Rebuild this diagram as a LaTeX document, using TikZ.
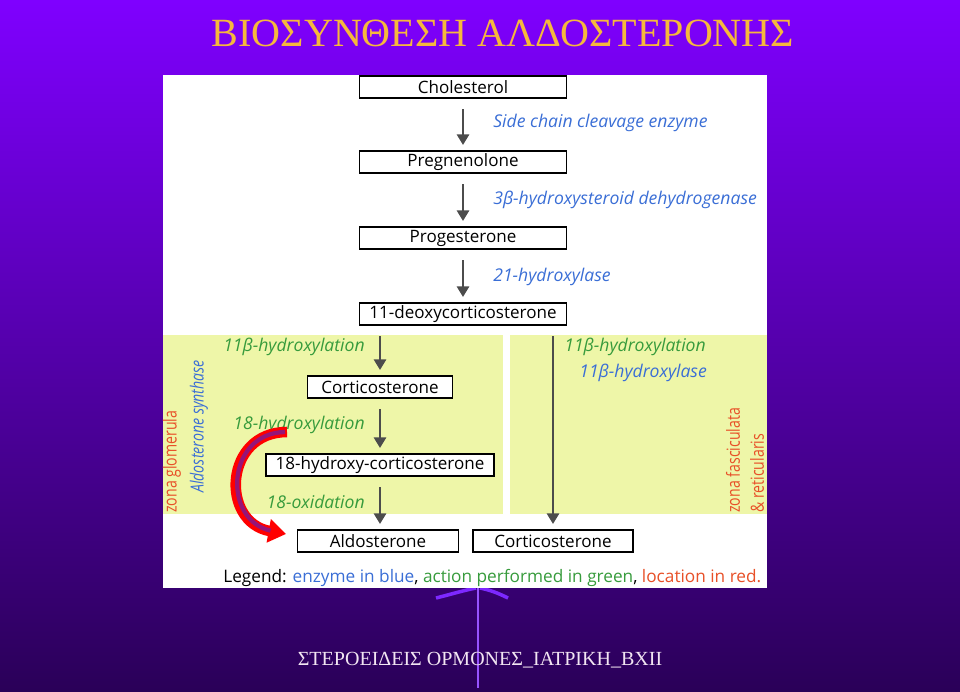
\documentclass[tikz,border=0pt]{standalone}
\usepackage{fontspec}
\setmainfont{Liberation Serif}
\newfontfamily\diagfont{Open Sans}
\newfontfamily\narrowfont[FakeStretch=0.78]{Open Sans}
\usetikzlibrary{arrows.meta,positioning}
\tikzset{>={Triangle[width=7pt,length=6pt]}}
\definecolor{slidetop}{RGB}{127,0,255}
\definecolor{slidemid}{RGB}{92,0,205}
\definecolor{slidebot}{RGB}{42,0,88}
\definecolor{titlegold}{RGB}{246,184,60}
\definecolor{enzblue}{RGB}{58,110,214}
\definecolor{actgreen}{RGB}{55,155,60}
\definecolor{locred}{RGB}{232,80,40}
\definecolor{zonefill}{RGB}{238,246,168}
\definecolor{swirl}{RGB}{150,20,120}
\definecolor{stem}{RGB}{125,40,255}

\begin{document}
\begin{tikzpicture}[x=0.02cm,y=-0.02cm]
    \tikzstyle{mbox} = [draw, line width=0.9pt, fill=white, inner sep=0pt, minimum height=0.44cm, font=\diagfont\fontsize{9.7}{11}\selectfont]
    \tikzstyle{enz} = [text=enzblue, inner sep=0pt, font=\diagfont\itshape\fontsize{10}{12}\selectfont]
    \tikzstyle{act} = [text=actgreen, inner sep=0pt, font=\diagfont\itshape\fontsize{10}{12}\selectfont]
    \tikzstyle{loc} = [text=locred, inner sep=0pt, rotate=90, anchor=west, font=\narrowfont\fontsize{10.3}{12}\selectfont]
    \tikzstyle{flow} = [->, line width=1.1pt, draw=black!70, shorten <=6pt, shorten >=3pt]

    % slide background
    \shade[top color=slidetop, middle color=slidemid, bottom color=slidebot] (0,0) rectangle (960,691);
    \useasboundingbox (0,0) rectangle (960,691);
    \draw[stem!80!white, line width=1pt] (478,588) -- (478,688);
    \draw[stem, line width=2pt] (436,598) .. controls (452,594) and (465,590) .. (476,588);
    \draw[stem, line width=2pt] (480,588) .. controls (490,590) and (498,593) .. (508,598);

    \node[text=titlegold, font=\fontsize{22.8}{26}\selectfont] (title) at (503,33) {ΒΙΟΣΥΝΘΕΣΗ ΑΛΔΟΣΤΕΡΟΝΗΣ};
    \node[text=white!90!violet, font=\fontsize{11.4}{13}\selectfont] (footer) at (480,660) {ΣΤΕΡΟΕΙΔΕΙΣ ΟΡΜΟΝΕΣ\_ΙΑΤΡΙΚΗ\_ΒΧΙΙ};

    % figure panel
    \fill[white] (163,75) rectangle (767,588);
    \fill[zonefill] (163,335) rectangle (503,514);
    \fill[zonefill] (510,335) rectangle (767,514);

    % main chain
    \node[mbox, minimum width=4.14cm] (chol) at (463,87) {Cholesterol};
    \node[mbox, minimum width=4.14cm] (preg) at (463,162) {Pregnenolone};
    \node[mbox, minimum width=4.14cm] (prog) at (463,238) {Progesterone};
    \node[mbox, minimum width=4.14cm] (doc) at (463,314) {11-deoxycorticosterone};

    \node[mbox, minimum width=2.9cm] (cortA) at (380,387) {Corticosterone};
    \node[mbox, minimum width=4.56cm] (hcort) at (380,465) {18-hydroxy-corticosterone};
    \node[mbox, minimum width=3.22cm] (aldo) at (378,541) {Aldosterone};
    \node[mbox, minimum width=3.2cm] (cortB) at (553,541) {Corticosterone};

    \draw[flow] (chol) -- (preg);
    \draw[flow] (preg) -- (prog);
    \draw[flow] (prog) -- (doc);
    \draw[flow] (doc.south -| cortA.north) -- (cortA);
    \draw[flow] (cortA) -- (hcort);
    \draw[flow] (hcort) -- (hcort |- aldo.north);
    \draw[flow] (doc.south -| cortB.north) -- (cortB);

    % enzymes and actions
    \node[enz, anchor=west] (scc) at (493,123) {Side chain cleavage enzyme};
    \node[enz, anchor=west] (hsd) at (493,200) {3β-hydroxysteroid dehydrogenase};
    \node[enz, anchor=west] (h21) at (493,277) {21-hydroxylase};
    \node[act, anchor=east] (h11a) at (365,347) {11β-hydroxylation};
    \node[act, anchor=east] (h18) at (365,425) {18-hydroxylation};
    \node[act, anchor=east] (ox18) at (365,502) {18-oxidation};
    \node[act, anchor=west] (h11b) at (564,347) {11β-hydroxylation};
    \node[enz, anchor=west] (cyp11) at (579,373) {11β-hydroxylase};

    % zones
    \node[loc] (zg) at (172,513) {zona glomerula};
    \node[loc, text=enzblue, font=\narrowfont\itshape\fontsize{10.3}{12}\selectfont] (as) at (199,493) {Aldosterone synthase};
    \node[loc] (zf) at (733,513) {zona fasciculata};
    \node[loc] (zr) at (757,513) {\& reticularis};

    % swoosh
    \draw[red, line width=6pt, -{Triangle[width=13pt,length=10pt]}] (287,432) .. controls (224,432) and (220,522) .. (286,534);
    \draw[swirl, line width=2.4pt, shorten >=9pt] (285,432) .. controls (226,433) and (222,520) .. (286,534);

    % legend
    \node[anchor=west, inner sep=0pt, font=\diagfont\fontsize{9.8}{11}\selectfont] (legend) at (223,578)
      {Legend: \textcolor{enzblue}{enzyme in blue}, \textcolor{actgreen}{action performed in green}, \textcolor{locred}{location in red.}};
\end{tikzpicture}
\end{document}
